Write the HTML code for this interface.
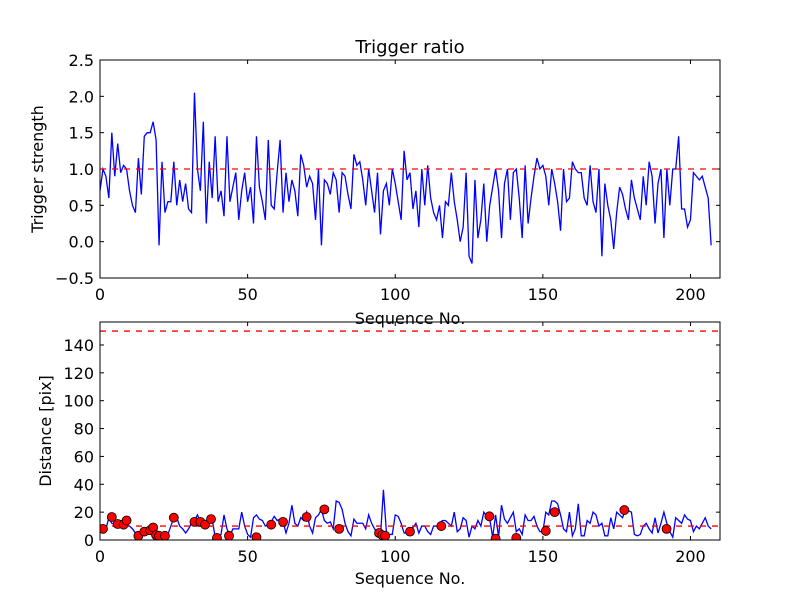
<!DOCTYPE html>
<html><head><meta charset="utf-8"><style>
html,body{margin:0;padding:0;background:#fff}
svg{display:block;font-family:"DejaVu Sans","Liberation Sans",sans-serif}
</style></head><body>
<svg id="fig" width="800" height="600" xmlns="http://www.w3.org/2000/svg"></svg>
<script>
const strength = [0.7,1.0,0.9,0.6,1.5,0.9,1.35,0.95,1.05,1.0,
0.7,0.5,0.4,1.15,0.65,1.45,1.5,1.5,1.65,1.4,
-0.05,1.1,0.4,0.55,0.55,1.1,0.5,0.85,0.55,0.8,
0.45,0.4,2.05,1.0,0.7,1.65,0.25,1.1,0.6,1.45,
0.55,0.7,0.35,1.45,0.55,0.75,0.95,0.3,0.7,0.95,
0.55,0.75,0.25,1.45,0.75,0.55,0.3,1.4,0.5,0.45,
0.95,1.4,0.4,0.95,0.55,0.85,0.7,0.35,1.2,1.05,
0.75,0.9,0.8,0.3,1.0,-0.05,0.85,0.8,0.65,0.95,
0.85,0.4,0.95,0.9,0.65,0.45,1.2,1.05,1.1,0.85,
0.5,1.0,0.7,0.4,0.95,0.1,0.7,0.8,0.5,1.0,
0.8,0.55,0.3,1.25,0.85,0.95,0.45,0.7,0.2,1.0,
0.5,1.05,0.6,0.4,0.3,0.5,0.05,0.55,0.5,0.95,
0.55,0.3,0.0,0.2,0.95,-0.2,-0.3,0.85,0.05,0.3,
0.8,0.0,0.5,0.75,1.0,0.7,0.05,0.8,1.0,0.3,
0.95,1.0,0.6,0.05,1.05,0.25,0.6,0.9,1.15,1.0,
1.05,0.9,0.5,1.0,0.8,0.55,0.15,1.0,0.55,0.6,
1.1,1.0,0.95,0.95,0.6,0.5,1.05,0.55,0.4,1.0,
-0.2,0.8,0.5,0.3,-0.1,0.4,0.75,0.65,0.45,0.3,
0.85,0.6,0.45,0.3,0.9,0.5,1.1,0.9,0.25,0.8,
1.0,0.05,1.0,0.5,1.0,1.0,1.45,0.45,0.45,0.2,
0.3,0.95,0.9,0.85,0.9,0.75,0.6,-0.05];
const strengthThreshold = [1.0];
const distance = [8,7,8,16,12,11,10,14,14,10,
10,8,5,3,5,6,7,9,3,3,
3,3,4,4,10,16,16,10,8,5,
8,12,14,18,13,12,11,15,15,2,
2,4,18,8,3,8,8,8,20,10,
4,2,16,18,15,14,10,11,13,17,
14,15,13,5,12,25,12,10,16,14,
20,10,5,16,18,22,14,12,13,8,
28,27,22,12,6,3,15,12,12,12,
8,18,12,8,5,3,36,6,4,4,
18,17,12,5,5,5,9,12,5,10,
10,6,4,10,10,12,14,14,12,10,
20,6,8,16,14,2,10,8,14,10,
20,17,15,2,18,2,25,15,12,16,
20,6,8,4,18,14,14,17,10,6,
6,20,18,28,28,26,18,8,6,20,
3,8,26,3,3,14,12,20,18,10,
12,3,3,16,8,20,18,16,22,21,
20,4,3,4,10,12,8,5,16,5,
12,20,12,6,2,16,14,12,18,15,
14,6,10,8,12,16,10,8];
const pointIdx = [1,4,6,8,9,13,15,17,18,19,20,22,25,32,34,35.6,37.6,39.6,43.7,53,58,62,70,76,81,94.5,95.6,96.6,105,115.6,131.9,134,141,151,154,177.6,191.9];
const pointVal = [8,16.5,11.5,11,14,3,6,7,9,3.5,3,3,16,13,13,11,15,1.5,3,2,11,13,16.5,22,8,5,3.5,3,6,10,17,1,1.5,6.5,20,21.5,8];
const distLines = [10,150];
const xTicks = [0,50,100,150,200];
const topYTicks = [-0.5,0.0,0.5,1.0,1.5,2.0,2.5];
const botYTicks = [0,20,40,60,80,100,120,140];

const NS="http://www.w3.org/2000/svg", svg=document.getElementById('fig');
function el(t,a,p){const e=document.createElementNS(NS,t);for(const k in a)e.setAttribute(k,a[k]);(p||svg).appendChild(e);return e;}
const L=100,R=720,XMAX=210;
const sx=v=>L+v*(R-L)/XMAX;
function axes(top,bot,ymin,ymax,yticks,fmt,name){
  const g=el('g',{});
  
  
  const sy=v=>bot-(v-ymin)*(bot-top)/(ymax-ymin);
  xTicks.forEach(t=>{const x=sx(t);
    el('line',{x1:x,x2:x,y1:bot,y2:bot-4,stroke:'#000'},g);
    el('line',{x1:x,x2:x,y1:top,y2:top+4,stroke:'#000'},g);
    const tx=el('text',{x:x,y:bot+22,'font-size':16,'text-anchor':'middle'},g);tx.textContent=t;
    
    
  });
  yticks.forEach(t=>{const y=sy(t);
    el('line',{x1:L,x2:L+4,y1:y,y2:y,stroke:'#000'},g);
    el('line',{x1:R,x2:R-4,y1:y,y2:y,stroke:'#000'},g);
    const tx=el('text',{x:L-6,y:y+6,'font-size':16,'text-anchor':'end'},g);tx.textContent=fmt(t);
    
    
  });
  return {g,sy};
}
const A=axes(60,278,-0.5,2.5,topYTicks,t=>t.toFixed(1).replace('-','\u2212'),'strength-axes');
const cp1=el('clipPath',{id:'c1'});el('rect',{x:L,y:60,width:R-L,height:218},cp1);
const l1=el('polyline',{points:strength.map((v,i)=>sx(i)+','+A.sy(v)).join(' '),fill:'none',stroke:'#0000ff','stroke-width':1.3,'clip-path':'url(#c1)'});


strengthThreshold.forEach(v=>{const d=el('line',{x1:L,x2:R,y1:A.sy(v),y2:A.sy(v),stroke:'#ff0000','stroke-width':1.3,'stroke-dasharray':'6,6'});
  
  });
el('rect',{x:L,y:60,width:R-L,height:218,fill:'none',stroke:'#000'});
const B=axes(322,540,0,156.5,botYTicks,t=>t,'distance-axes');
const cp2=el('clipPath',{id:'c2'});el('rect',{x:L,y:322,width:R-L,height:218},cp2);
const l2=el('polyline',{points:distance.map((v,i)=>sx(i)+','+B.sy(v)).join(' '),fill:'none',stroke:'#0000ff','stroke-width':1.3,'clip-path':'url(#c2)'});


distLines.forEach(v=>{const d=el('line',{x1:L,x2:R,y1:B.sy(v),y2:B.sy(v),stroke:'#ff0000','stroke-width':1.3,'stroke-dasharray':'6,6'});
  
  });
pointIdx.forEach((ix,i)=>{const c=el('circle',{cx:sx(ix),cy:B.sy(pointVal[i]),r:4.5,fill:'#ff0000',stroke:'#000','stroke-width':0.8,'clip-path':'url(#c2)'});
  
  });
el('rect',{x:L,y:322,width:R-L,height:218,fill:'none',stroke:'#000'});
function txt(s,a,name){const t=el('text',a);t.textContent=s;}
txt('Trigger ratio',{x:410,y:53,'font-size':18,'text-anchor':'middle'},'chart-title');
txt('Sequence No.',{x:410,y:324,'font-size':16,'text-anchor':'middle'},'top-x-axis-title');
txt('Sequence No.',{x:410,y:584,'font-size':16,'text-anchor':'middle'},'bottom-x-axis-title');
txt('Trigger strength',{x:43,y:169,'font-size':16,'text-anchor':'middle',transform:'rotate(-90 43 169)'},'top-y-axis-title');
txt('Distance [pix]',{x:51,y:431,'font-size':16,'text-anchor':'middle',transform:'rotate(-90 51 431)'},'bottom-y-axis-title');
</script>
</body></html>
